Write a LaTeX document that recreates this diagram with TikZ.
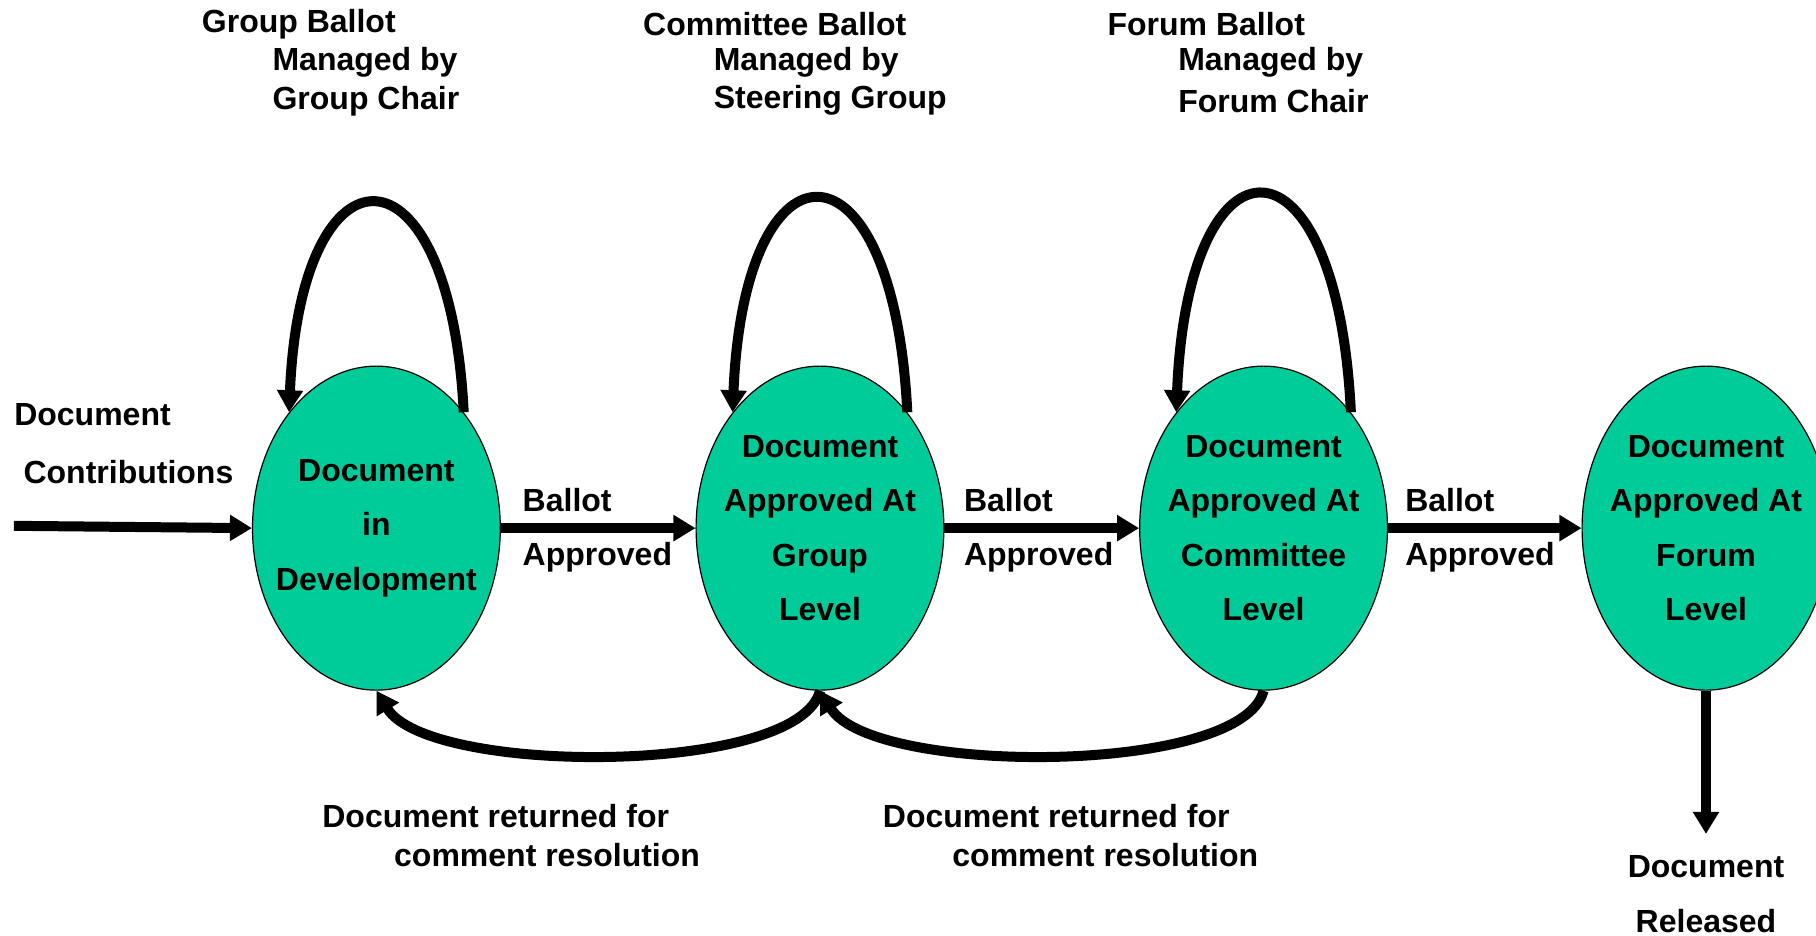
\documentclass[tikz,border=0pt]{standalone}
\usepackage{fontspec}
\setmainfont{Liberation Sans}
\usetikzlibrary{shapes.geometric,arrows.meta}
\definecolor{stategreen}{RGB}{0,204,153}
\tikzset{
  state/.style={ellipse, draw=black, line width=0.6pt, fill=stategreen,
    minimum width=123.9pt, minimum height=162pt, inner sep=0pt},
  statetext/.style={align=center, inner sep=0pt,
    font=\bfseries\fontsize{16pt}{27.2pt}\selectfont},
  lbl/.style={font=\bfseries\fontsize{16pt}{19pt}\selectfont, inner sep=0pt},
  flow/.style={line width=5pt, -{Triangle[length=11pt,width=12.5pt]}},
}
\begin{document}
\begin{tikzpicture}[x=0.5791pt, y=-0.5791pt]
\clip (0,0) rectangle (1568,808);
\fill[white] (0,0) rectangle (1568,808);

% states
\node[state] (E1) at (325,456) {};
\node[state] (E2) at (708,456) {};
\node[state] (E3) at (1091,456) {};
\node[state] (E4) at (1473,456) {};
\node[statetext] (E1t) at (E1.center) {Document\\in\\Development};
\node[statetext] (E2t) at (E2.center) {Document\\Approved At\\Group\\Level};
\node[statetext] (E3t) at (E3.center) {Document\\Approved At\\Committee\\Level};
\node[statetext] (E4t) at (E4.center) {Document\\Approved At\\Forum\\Level};

% free ends
\coordinate (in) at (12,454);
\coordinate (out) at (1473,720);

% connectors
\draw[flow] (in) -- (E1.west);
\draw[flow] (E1.east) -- (E2.west);
\draw[flow] (E2.east) -- (E3.west);
\draw[flow] (E3.east) -- (E4.west);
\draw[flow] (E4.south) -- (out);

% self loops
\draw[flow] (E1.53) .. controls +(-12,-240) and +(10,-240) .. (E1.127);
\draw[flow] (E2.53) .. controls +(-12,-245) and +(10,-245) .. (E2.127);
\draw[flow] (E3.53) .. controls +(-12,-250) and +(10,-250) .. (E3.127);

% return arrows
\draw[flow] (E2.south) .. controls (690,670) and (370,670) .. (E1.south);
\draw[flow] (E3.south) .. controls (1073,670) and (753,670) .. (E2.south);

% top labels
\node[lbl, anchor=west] (t1a) at (174,21) {Group Ballot};
\node[lbl, anchor=west] (t1b) at (235,54) {Managed by};
\node[lbl, anchor=west] (t1c) at (235,87) {Group Chair};
\node[lbl, anchor=west] (t2a) at (555,21) {Committee Ballot};
\node[lbl, anchor=west] (t2b) at (616,54) {Managed by};
\node[lbl, anchor=west] (t2c) at (616,87) {Steering Group};
\node[lbl, anchor=west] (t3a) at (956,21) {Forum Ballot};
\node[lbl, anchor=west] (t3b) at (1017,54) {Managed by};
\node[lbl, anchor=west] (t3c) at (1017,87) {Forum Chair};

% input labels
\node[lbl, anchor=west] (ina) at (12,358) {Document};
\node[lbl, anchor=west] (inb) at (20,408) {Contributions};

% ballot approved labels
\node[lbl, anchor=west] (b1a) at (451,432) {Ballot};
\node[lbl, anchor=west] (b1b) at (451,481) {Approved};
\node[lbl, anchor=west] (b2a) at (832,432) {Ballot};
\node[lbl, anchor=west] (b2b) at (832,481) {Approved};
\node[lbl, anchor=west] (b3a) at (1213,432) {Ballot};
\node[lbl, anchor=west] (b3b) at (1213,481) {Approved};

% return labels
\node[lbl, anchor=west] (r1a) at (278,705) {Document returned for};
\node[lbl, anchor=west] (r1b) at (340,738) {comment resolution};
\node[lbl, anchor=west] (r2a) at (762,705) {Document returned for};
\node[lbl, anchor=west] (r2b) at (822,738) {comment resolution};

% released
\node[lbl] (rela) at (1473,748) {Document};
\node[lbl] (relb) at (1473,795) {Released};
\end{tikzpicture}
\end{document}
